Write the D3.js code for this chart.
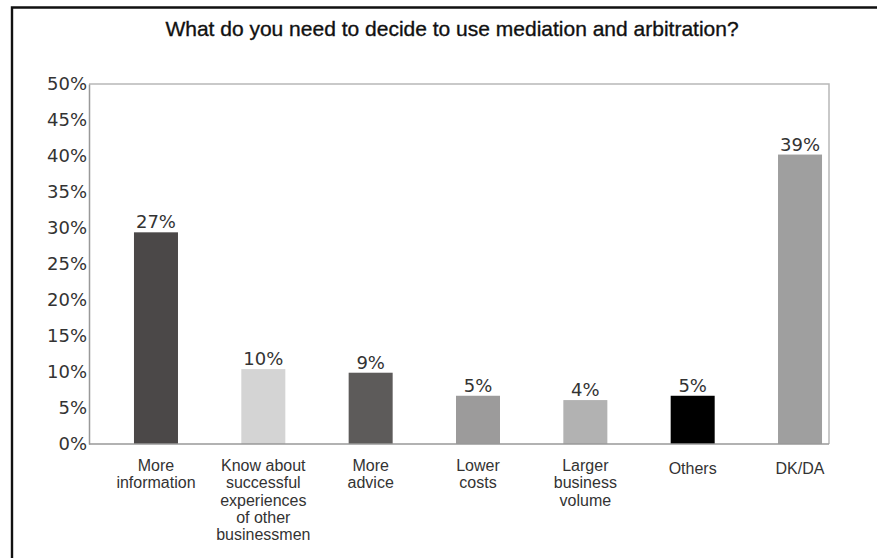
<!DOCTYPE html>
<html>
<head>
<meta charset="utf-8">
<script src="https://cdn.jsdelivr.net/npm/d3@7"></script>
<style>
  html, body { margin: 0; padding: 0; background: #fff; }
  svg { display: block; }
</style>
</head>
<body>
<svg id="chart" width="877" height="558"></svg>
<script>
// ---- data ----
const titleText = "What do you need to decide to use mediation and arbitration?";
const categories = [
  "More information",
  "Know about successful experiences of other businessmen",
  "More advice",
  "Lower costs",
  "Larger business volume",
  "Others",
  "DK/DA"
];
const categoryLines = [
  ["More", "information"],
  ["Know about", "successful", "experiences", "of other", "businessmen"],
  ["More", "advice"],
  ["Lower", "costs"],
  ["Larger", "business", "volume"],
  ["Others"],
  ["DK/DA"]
];
// bar heights as drawn against the axis (percent)
const barHeights = [29.4, 10.4, 9.9, 6.7, 6.1, 6.7, 40.2];
// printed value labels
const valueLabels = ["27%", "10%", "9%", "5%", "4%", "5%", "39%"];
const barColors = ["#4b4848", "#d4d4d4", "#5d5b5a", "#9c9b9b", "#b2b2b2", "#000000", "#9f9f9f"];
const yTicks = [0, 5, 10, 15, 20, 25, 30, 35, 40, 45, 50];

// ---- layout ----
const svg = d3.select("#chart");
const plot = { left: 89, right: 829, top: 84, bottom: 444 };

const y = d3.scaleLinear().domain([0, 50]).range([plot.bottom, plot.top]);
const x = d3.scaleBand().domain(categories).range([89, 867])
  .paddingInner(0.59).paddingOuter(0.419);

// outer frame (left + top)
svg.append("path")
  .attr("d", "M12,558 L12,7.5 L877,7.5")
  .attr("fill", "none").attr("stroke", "#111").attr("stroke-width", 2.4);

// title
svg.append("text")
  .attr("x", 452).attr("y", 36)
  .attr("text-anchor", "middle")
  .attr("font-family", "Liberation Sans, Arial, sans-serif")
  .attr("font-size", 21)
  .attr("fill", "#111")
  .attr("stroke", "#111").attr("stroke-width", 0.35)
  .text(titleText);

// plot frame (top + right)
svg.append("path")
  .attr("d", `M${plot.left},${plot.top} L${plot.right},${plot.top} L${plot.right},${plot.bottom}`)
  .attr("fill", "none").attr("stroke", "#b8b8b8").attr("stroke-width", 1.5);

// bars
svg.append("g").selectAll("rect")
  .data(categories)
  .join("rect")
  .attr("x", d => x(d))
  .attr("width", x.bandwidth())
  .attr("y", (d, i) => y(barHeights[i]))
  .attr("height", (d, i) => y(0) - y(barHeights[i]))
  .attr("fill", (d, i) => barColors[i]);

// y axis
const yAxis = svg.append("g")
  .attr("transform", `translate(${plot.left},0)`)
  .call(d3.axisLeft(y).tickValues(yTicks).tickSize(0).tickPadding(2)
    .tickFormat(d => d + "%"));
yAxis.select(".domain").attr("stroke", "#999").attr("stroke-width", 1.5);
yAxis.selectAll("text")
  .attr("font-family", "DejaVu Sans, sans-serif")
  .attr("font-size", 18)
  .attr("fill", "#333");

// x axis baseline
svg.append("line")
  .attr("x1", plot.left).attr("x2", plot.right)
  .attr("y1", y(0)).attr("y2", y(0))
  .attr("stroke", "#999").attr("stroke-width", 1.5);

// value labels
svg.append("g").selectAll("text")
  .data(categories)
  .join("text")
  .attr("x", d => x(d) + x.bandwidth() / 2)
  .attr("y", (d, i) => y(barHeights[i]) - 4)
  .attr("text-anchor", "middle")
  .attr("font-family", "DejaVu Sans, sans-serif")
  .attr("font-size", 18)
  .attr("fill", "#333")
  .text((d, i) => valueLabels[i]);

// category labels
const catG = svg.append("g").selectAll("text")
  .data(categories)
  .join("text")
  .attr("x", d => x(d) + x.bandwidth() / 2)
  .attr("y", (d, i) => y(0) + 27 + (categoryLines[i].length === 1 ? 3 : 0))
  .attr("text-anchor", "middle")
  .attr("font-family", "Liberation Sans, Arial, sans-serif")
  .attr("font-size", 16)
  .attr("fill", "#333");
catG.each(function(d, i) {
  const t = d3.select(this);
  categoryLines[i].forEach((line, k) => {
    t.append("tspan")
      .attr("x", x(d) + x.bandwidth() / 2)
      .attr("dy", k === 0 ? 0 : 17.3)
      .text(line);
  });
});
</script>
</body>
</html>
